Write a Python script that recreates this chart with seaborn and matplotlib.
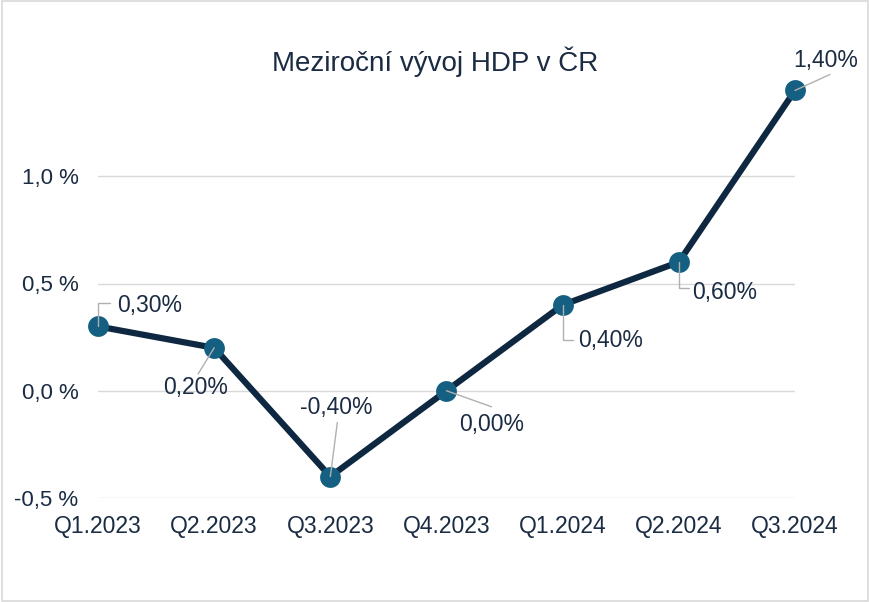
import matplotlib
matplotlib.use("Agg")
import matplotlib.pyplot as plt
import seaborn as sns
import pandas as pd
from matplotlib.patches import Rectangle

# Data
quarters = ["Q1.2023", "Q2.2023", "Q3.2023", "Q4.2023", "Q1.2024", "Q2.2024", "Q3.2024"]
growth = [0.30, 0.20, -0.40, 0.00, 0.40, 0.60, 1.40]
y_ticks = [-0.5, 0.0, 0.5, 1.0]
y_tick_labels = ["-0,5 %", "0,0 %", "0,5 %", "1,0 %"]
point_labels = ["0,30%", "0,20%", "-0,40%", "0,00%", "0,40%", "0,60%", "1,40%"]
title = "Meziroční vývoj HDP v ČR"

# label placement (pixels relative to point: leader end, text centre, elbow?)
leader_end = [(12, 23), (-16, -26), (7, 54), (45, -16), (10, -35), (10, -26), (35, 16)]
text_pos = [(52, 21), (-19, -40), (6, 69), (45, -34), (48, -36), (46, -30), (31, 30)]
elbow = [True, False, False, False, True, True, False]

LINE = "#0E2841"
MARK = "#156082"
TEXT = "#1a2b42"
GRID = "#d9d9d9"

sns.set_theme(style="white")
plt.rcParams["font.family"] = ["Liberation Sans", "DejaVu Sans"]

df = pd.DataFrame({"quarter": quarters, "growth": growth})

fig = plt.figure(figsize=(8.70, 6.02), dpi=100)
ax = fig.add_axes([98 / 870, 1 - 498 / 602, (795 - 98) / 870, (498 - 69) / 602])

sns.lineplot(data=df, x="quarter", y="growth", sort=False, ax=ax, color=LINE,
             linewidth=4.5, marker="o", markersize=15, markerfacecolor=MARK,
             markeredgecolor=MARK, markeredgewidth=0, clip_on=False, zorder=3)

ax.set_xlim(0, len(quarters) - 1)
ax.set_ylim(-0.5, 1.5)
ax.set_yticks(y_ticks)
ax.set_yticklabels(y_tick_labels)
ax.yaxis.grid(True, color=GRID, linewidth=1)
ax.xaxis.grid(False)
ax.set_axisbelow(True)
for s in ax.spines.values():
    s.set_visible(False)
ax.tick_params(axis="both", length=0, labelsize=16, labelcolor=TEXT)
ax.tick_params(axis="x", pad=12, labelsize=16.5)
ax.tick_params(axis="y", pad=14)
ax.set_xlabel("")
ax.set_ylabel("")

k = 0.72  # px -> pt at 100 dpi
for i, (q, v) in enumerate(zip(quarters, growth)):
    lx, ly = leader_end[i]
    tx, ty = text_pos[i]
    cs = "angle,angleA=0,angleB=90,rad=0" if elbow[i] else "arc3,rad=0"
    ax.annotate("", xy=(i, v), xytext=(lx * k, ly * k), textcoords="offset points",
                arrowprops=dict(arrowstyle="-", color="#b0b0b0", lw=1.0,
                                shrinkA=0, shrinkB=0, connectionstyle=cs),
                annotation_clip=False, zorder=5)
    ax.annotate(point_labels[i], xy=(i, v), xytext=(tx * k, ty * k),
                textcoords="offset points", ha="center", va="center",
                fontsize=16.5, color=TEXT, annotation_clip=False, zorder=6)

fig.text(435 / 870, 1 - 62 / 602, title, ha="center", va="center",
         fontsize=20, color=TEXT)

fig.patches.append(Rectangle((0.002, 0.002), 0.996, 0.996, transform=fig.transFigure,
                             fill=False, edgecolor="#d9d9d9", linewidth=1.2))

fig.savefig("out.png", dpi=100)
